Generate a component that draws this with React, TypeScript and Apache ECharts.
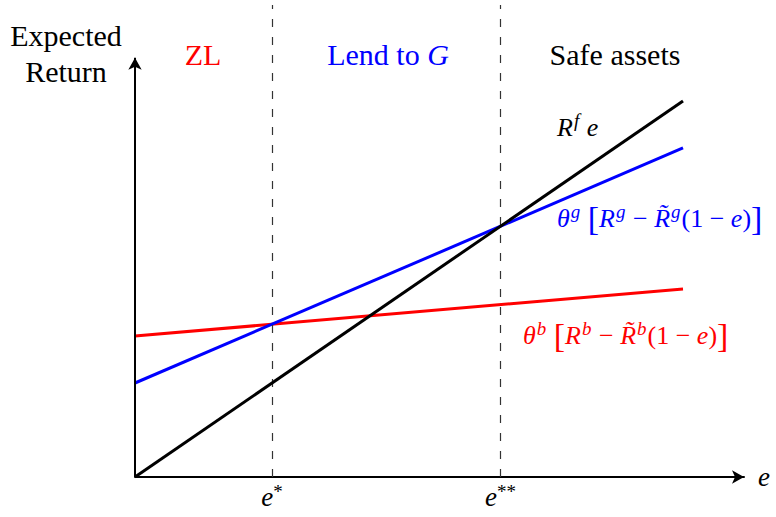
import React, { useEffect, useRef } from "react";
import * as echarts from "echarts";

// ---- data ----
const eValues = [0, 1];
const safeAssets = [0, 1]; // R^f e
const lendToG = [0.25, 0.875]; // θ^g [R^g − R̃^g(1 − e)]
const zeroLending = [0.375, 0.5]; // θ^b [R^b − R̃^b(1 − e)]
const thresholds = [0.25, 0.667]; // e*, e**
const thresholdStars = ["*", "**"];
const regionNames = ["ZL", "Lend to G", "Safe assets"];

const FONT = "'Liberation Serif', 'DejaVu Serif', serif";
const X_MAX = 1.1113;
const Y_MAX = 1.2553;
const Y_ARROW = 1.115;

const pairs = (ys: number[]) => eValues.map((x, i) => [x, ys[i]]);

export default function App() {
  const ref = useRef<HTMLDivElement>(null);
  useEffect(() => {
    if (!ref.current) return;
    const chart = echarts.init(ref.current, null, { renderer: "svg" });

    const base = { fontFamily: FONT, fontStyle: "italic", fontSize: 26, lineHeight: 32, verticalAlign: "middle" };
    const mathRich = (color: string) => ({
      it: { ...base, fill: color, color },
      n: { ...base, fontStyle: "normal", fill: color, color },
      sup: { fontFamily: FONT, fontStyle: "italic", fontSize: 19, lineHeight: 16, verticalAlign: "top", fill: color, color, padding: [0, 1, 0, 1] },
      br: { fontFamily: FONT, fontSize: 34, lineHeight: 32, verticalAlign: "middle", fill: color, color },
    });
    const eq = (sup: string) =>
      `{it|θ}{sup|${sup}}{n| }{br|[}{it|R}{sup|${sup}}{n| − }{it|R̃}{sup|${sup}}{n|(1 − }{it|e}{n|)}{br|]}`;

    const regionColors = ["#ff0000", "#0000ff", "#000000"];

    const option: any = {
      animation: false,
      backgroundColor: "#ffffff",
      grid: { left: 135, right: 32, top: 5, bottom: 40 },
      xAxis: {
        type: "value",
        min: 0,
        max: X_MAX,
        name: "e",
        nameLocation: "end",
        nameGap: 14,
        nameTextStyle: { fontFamily: FONT, fontStyle: "italic", fontSize: 27, color: "#000", verticalAlign: "middle" },
        axisLine: {
          show: true,
          onZero: false,
          symbol: ["none", "arrow"],
          symbolSize: [10, 12],
          lineStyle: { color: "#000", width: 2 },
        },
        axisTick: { show: false },
        splitLine: { show: false },
        axisLabel: {
          show: true,
          customValues: thresholds,
          margin: 5,
          formatter: (v: number) => {
            const i = thresholds.findIndex((t) => Math.abs(t - v) < 1e-6);
            return `{e|e}{s|${thresholdStars[i] ?? ""}}`;
          },
          rich: {
            e: { fontFamily: FONT, fontStyle: "italic", fontSize: 27, lineHeight: 30, color: "#000", verticalAlign: "middle" },
            s: { fontFamily: FONT, fontSize: 19, lineHeight: 16, color: "#000", verticalAlign: "top" },
          },
        },
      },
      yAxis: {
        type: "value",
        min: 0,
        max: Y_MAX,
        axisLine: { show: false },
        axisTick: { show: false },
        axisLabel: { show: false },
        splitLine: { show: false },
      },
      series: [
        {
          type: "line",
          name: "ZL",
          data: pairs(zeroLending),
          symbol: "none",
          lineStyle: { color: "#ff0000", width: 3 },
          z: 3,
        },
        {
          type: "line",
          name: "Lend to G",
          data: pairs(lendToG),
          symbol: "none",
          lineStyle: { color: "#0000ff", width: 3 },
          z: 4,
          markLine: {
            silent: true,
            symbol: ["none", "none"],
            label: { show: false },
            lineStyle: { color: "#333", width: 1.2, type: [8, 10] },
            data: thresholds.map((t) => [{ coord: [t, 0] }, { coord: [t, Y_MAX] }]),
          },
        },
        {
          type: "line",
          name: "Safe assets",
          data: pairs(safeAssets),
          symbol: "none",
          lineStyle: { color: "#000000", width: 3 },
          z: 5,
          markLine: {
            silent: true,
            symbol: ["none", "arrow"],
            symbolSize: [10, 12],
            label: { show: false },
            lineStyle: { color: "#000", width: 2, type: "solid" },
            data: [[{ coord: [0, 0] }, { coord: [0, Y_ARROW] }]],
          },
        },
      ],
      graphic: [
        {
          type: "text",
          x: 66,
          y: 17,
          style: {
            text: "Expected\nReturn",
            fontFamily: FONT,
            fontSize: 30,
            lineHeight: 36,
            fill: "#000",
            align: "center",
            verticalAlign: "top",
          },
        },
        {
          type: "text",
          x: 203,
          y: 54,
          style: { text: regionNames[0], fontFamily: FONT, fontSize: 30, fill: regionColors[0], align: "center", verticalAlign: "middle" },
        },
        {
          type: "text",
          x: 388,
          y: 54,
          style: {
            text: "{n|Lend to }{i|G}",
            align: "center",
            verticalAlign: "middle",
            rich: {
              n: { fontFamily: FONT, fontSize: 30, fill: regionColors[1] },
              i: { fontFamily: FONT, fontStyle: "italic", fontSize: 30, fill: regionColors[1] },
            },
          },
        },
        {
          type: "text",
          x: 615,
          y: 54,
          style: { text: regionNames[2], fontFamily: FONT, fontSize: 30, fill: regionColors[2], align: "center", verticalAlign: "middle" },
        },
        {
          type: "text",
          x: 557,
          y: 127,
          style: {
            text: "{it|R}{sup|f}{n| }{it|e}",
            align: "left",
            verticalAlign: "middle",
            rich: mathRich("#000"),
          },
        },
        {
          type: "text",
          x: 557,
          y: 218,
          style: { text: eq("g"), align: "left", verticalAlign: "middle", rich: mathRich("#0000ff") },
        },
        {
          type: "text",
          x: 523,
          y: 335,
          style: { text: eq("b"), align: "left", verticalAlign: "middle", rich: mathRich("#ff0000") },
        },
      ],
    };
    chart.setOption(option);
    return () => chart.dispose();
  }, []);

  return (
    <div
      ref={ref}
      style={{ position: "fixed", left: 0, top: 0, width: 776, height: 517, background: "#fff" }}
    />
  );
}
